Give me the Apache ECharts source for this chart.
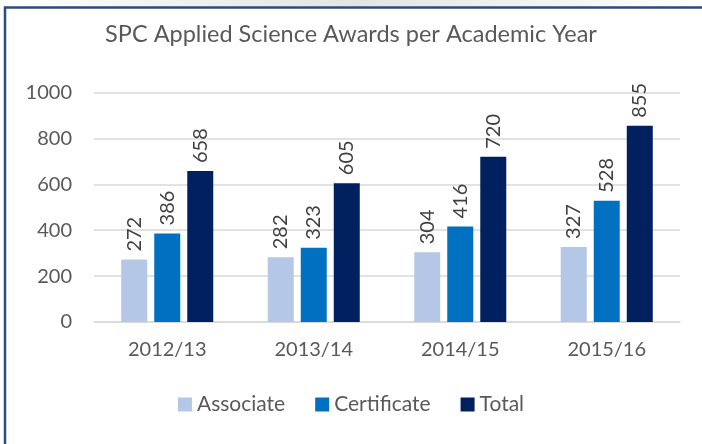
<!DOCTYPE html>
<html lang="en">

<head>
    <meta charset="UTF-8">
    <title>SPC Applied Science Awards per Academic Year</title>
    <script src="https://cdn.jsdelivr.net/npm/echarts@6/dist/echarts.min.js"></script>
    <style>
        body {
            margin: 0;
            background: #fff;
        }

        #chart {
            width: 702px;
            height: 444px;
        }
    </style>
</head>

<body>
    <div id="chart"></div>

    <script>
        // data
        const years = ['2012/13', '2013/14', '2014/15', '2015/16'];
        const associate = [272, 282, 304, 327];
        const certificate = [386, 323, 416, 528];
        const total = [658, 605, 720, 855];

        const font = 'Lato, "Open Sans", sans-serif';

        const chart = echarts.init(document.getElementById('chart'));

        function barSeries(name, data, color) {
            return {
                name: name,
                type: 'bar',
                data: data,
                barWidth: 26,
                barGap: '27%',
                itemStyle: { color: color },
                label: {
                    show: true,
                    position: 'top',
                    rotate: 90,
                    align: 'left',
                    verticalAlign: 'middle',
                    distance: 8,
                    color: '#404040',
                    fontFamily: font,
                    fontSize: 20
                }
            };
        }

        chart.setOption({
            animation: false,
            title: {
                text: 'SPC Applied Science Awards per Academic Year',
                left: 'center',
                top: 17,
                textStyle: {
                    color: '#595959',
                    fontFamily: font,
                    fontSize: 23.5,
                    fontWeight: 'normal'
                }
            },
            legend: {
                bottom: 24,
                left: 'center',
                itemWidth: 14,
                itemHeight: 14,
                itemGap: 30,
                icon: 'rect',
                textStyle: {
                    color: '#595959',
                    fontFamily: font,
                    fontSize: 21
                }
            },
            grid: {
                left: 94,
                right: 22,
                top: 92.5,
                bottom: 122
            },
            xAxis: {
                type: 'category',
                data: years,
                axisTick: { show: false },
                axisLine: { lineStyle: { color: '#d9d9d9', width: 1.5 } },
                axisLabel: {
                    color: '#595959',
                    fontFamily: font,
                    fontSize: 20,
                    margin: 18
                }
            },
            yAxis: {
                type: 'value',
                min: 0,
                max: 1000,
                interval: 200,
                axisLine: { show: false },
                axisTick: { show: false },
                splitLine: { lineStyle: { color: '#d9d9d9', width: 1.5 } },
                axisLabel: {
                    color: '#595959',
                    fontFamily: font,
                    fontSize: 20,
                    margin: 22,
                    formatter: function (v) { return String(v); }
                }
            },
            series: [
                barSeries('Associate', associate, '#b4c7e7'),
                barSeries('Certificate', certificate, '#0070c0'),
                barSeries('Total', total, '#002060')
            ],
            graphic: [
                {
                    type: 'rect',
                    left: 0,
                    top: 0,
                    shape: { width: 702, height: 6 },
                    style: {
                        fill: {
                            type: 'linear', x: 0, y: 0, x2: 1, y2: 0,
                            colorStops: [
                                { offset: 0, color: '#ffffff' },
                                { offset: 0.5, color: '#e4e4e4' },
                                { offset: 1, color: '#ffffff' }
                            ]
                        }
                    },
                    silent: true
                },
                {
                    type: 'rect',
                    shape: { x: 5, y: 7.5, width: 760, height: 500 },
                    style: { fill: 'none', stroke: '#2b4a7d', lineWidth: 2.5 },
                    silent: true
                }
            ]
        });
    </script>
</body>

</html>
